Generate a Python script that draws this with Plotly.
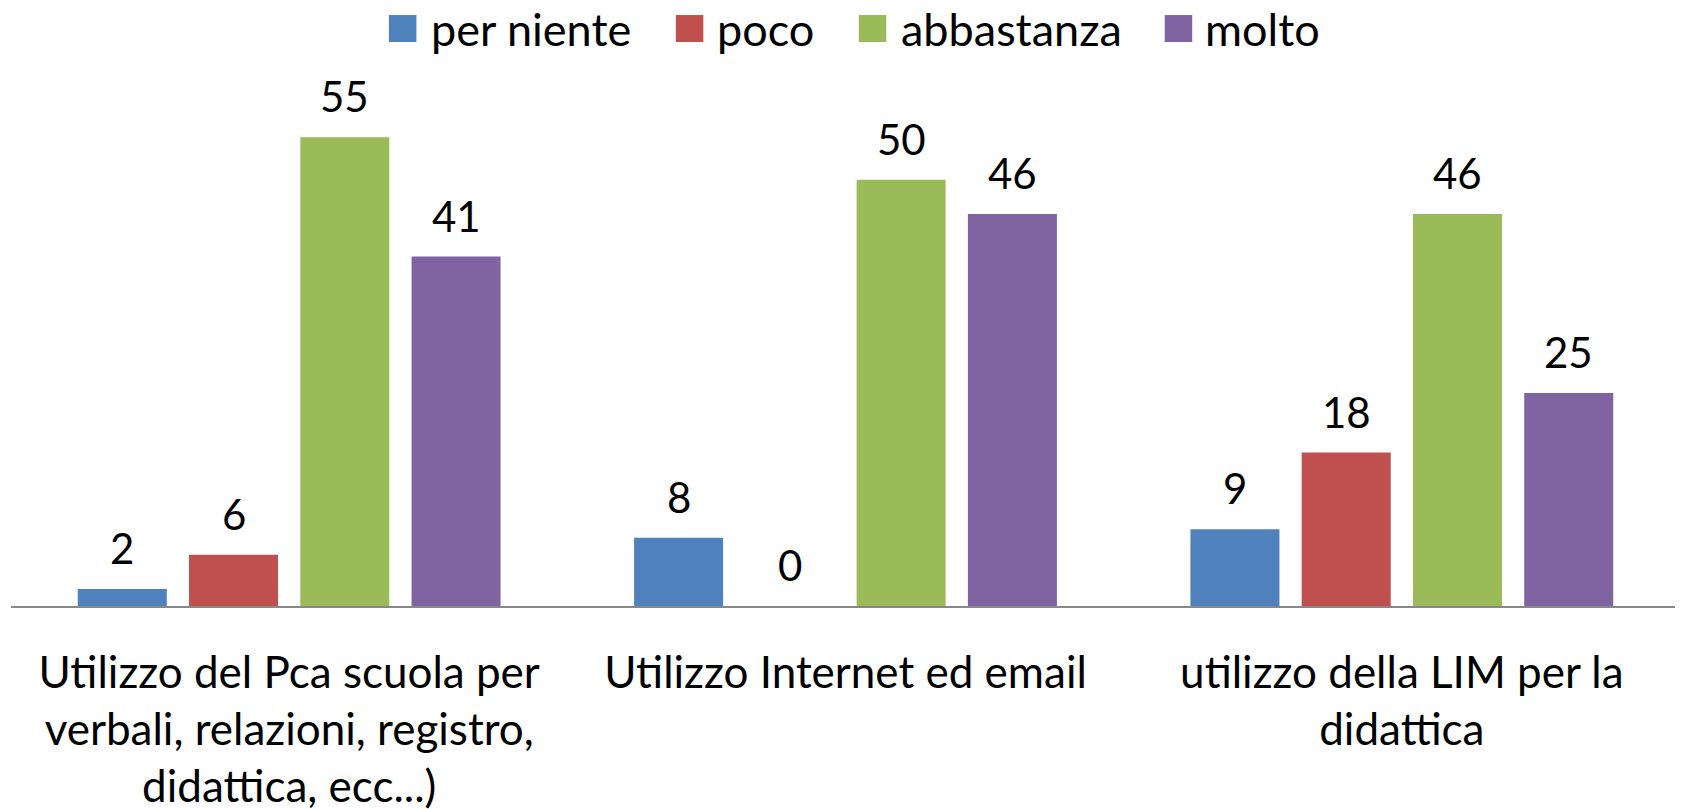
import plotly.graph_objects as go

categories = [
    "Utilizzo del Pca scuola per<br>verbali, relazioni, registro,<br>didattica, ecc...)",
    "Utilizzo Internet ed email",
    "utilizzo della LIM per la<br>didattica",
]
series_names = ["per niente", "poco", "abbastanza", "molto"]
per_niente = [2, 8, 9]
poco = [6, 0, 18]
abbastanza = [55, 50, 46]
molto = [41, 46, 25]
series_values = [per_niente, poco, abbastanza, molto]
colors = ["#4F81BD", "#C0504D", "#9BBB59", "#8064A2"]

FONT = "Lato"
BARGAP = 0.2
# the page body adds an 8px offset, so the figure is drawn 8px smaller
OFF = 8
W, H = 1683 - OFF, 809 - OFF
ML, MR, MT, MB = 11 - OFF, 2.6, 60 - OFF, 202.5
PW, PH = W - ML - MR, H - MT - MB

fig = go.Figure()
for name, vals, col in zip(series_names, series_values, colors):
    fig.add_trace(go.Bar(
        name=name, x=categories, y=vals,
        marker=dict(color=col, line=dict(width=0)),
        hoverinfo="x+y+name", showlegend=False,
    ))

# data labels above each bar (x from category index and the group layout)
n = len(series_names)
slot = (1 - BARGAP) / n
annotations = []
for i, vals in enumerate(series_values):
    for c, v in enumerate(vals):
        annotations.append(dict(
            x=c + (i - (n - 1) / 2) * slot, y=v, xref="x", yref="y",
            text=str(v), showarrow=False, yanchor="bottom", yshift=14,
            font=dict(family=FONT, size=42, color="#000000"),
        ))

# legend drawn as swatches + labels across the top (page pixels -> paper coords)
def px_x(p):
    return (p - OFF - ML) / PW

def px_y(p):
    return (H - MB - (p - OFF)) / PH

legend_swatch_left = [389, 676, 859, 1165]
legend_text_left = [429, 715.6, 899, 1203.6]
SW = 27.5
shapes = []
for name, col, sx, tx in zip(series_names, colors, legend_swatch_left, legend_text_left):
    shapes.append(dict(
        type="rect", xref="paper", yref="paper",
        x0=px_x(sx), x1=px_x(sx + SW), y0=px_y(42), y1=px_y(15),
        fillcolor=col, line=dict(width=0),
    ))
    annotations.append(dict(
        x=px_x(tx), y=px_y(28.5), xref="paper", yref="paper",
        text=name, showarrow=False, xanchor="left", yanchor="middle",
        font=dict(family=FONT, size=45, color="#000000"),
    ))

fig.update_layout(
    width=W, height=H,
    paper_bgcolor="white", plot_bgcolor="white",
    barmode="group", bargap=BARGAP, bargroupgap=0.2,
    margin=dict(l=ML, r=MR, t=MT, b=MB, autoexpand=False),
    font=dict(family=FONT, size=44, color="#000000"),
    annotations=annotations,
    shapes=shapes,
    showlegend=False,
)
fig.update_xaxes(
    type="category", showline=True, linecolor="#888888", linewidth=2,
    ticks="", showgrid=False, zeroline=False, ticklabelstandoff=27,
    automargin=False,
    tickfont=dict(family=FONT, size=44, color="#000000"),
)
fig.update_yaxes(
    range=[0, 64.06], visible=False, showgrid=False, zeroline=False,
    automargin=False,
)

fig.write_html("out.html")
